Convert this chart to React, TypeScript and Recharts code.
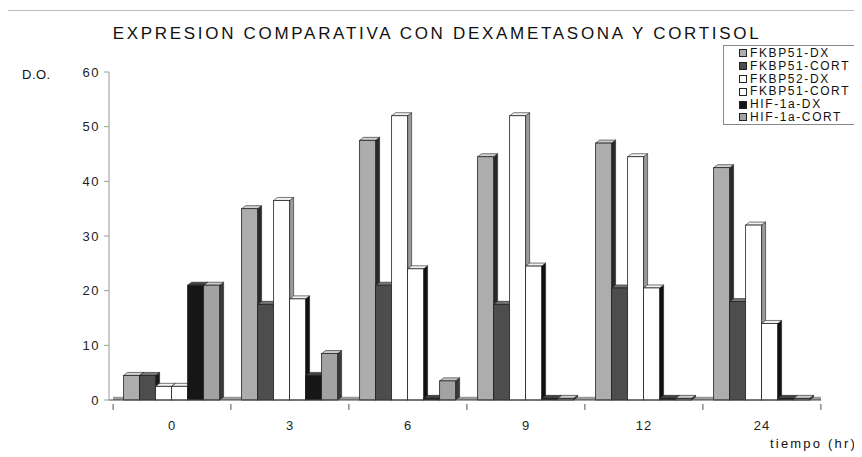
import { BarChart, Bar, XAxis, YAxis, ReferenceArea } from "recharts";

const times = ["0", "3", "6", "9", "12", "24"];
const fkbp51Dx = [4.5, 35, 47.5, 44.5, 47, 42.5];
const fkbp51Cort = [4.5, 17.5, 21, 17.5, 20.5, 18];
const fkbp52Dx = [2.5, 36.5, 52, 52, 44.5, 32];
const fkbp52Cort = [2.5, 18.5, 24, 24.5, 20.5, 14];
const hifDx = [21, 4.5, 0.3, 0.3, 0.3, 0.3];
const hifCort = [21, 8.5, 3.5, 0.3, 0.3, 0.3];
const yTicks = [0, 10, 20, 30, 40, 50, 60];

const series = [
  { key: "fkbp51Dx", name: "FKBP51-DX", values: fkbp51Dx, fill: "#adadad", side: "#2a2a2a", top: "#d0d0d0" },
  { key: "fkbp51Cort", name: "FKBP51-CORT", values: fkbp51Cort, fill: "#4d4d4d", side: "#1a1a1a", top: "#777" },
  { key: "fkbp52Dx", name: "FKBP52-DX", values: fkbp52Dx, fill: "#ffffff", side: "#9a9a9a", top: "#f2f2f2" },
  { key: "fkbp52Cort", name: "FKBP51-CORT", values: fkbp52Cort, fill: "#ffffff", side: "#111", top: "#f2f2f2" },
  { key: "hifDx", name: "HIF-1a-DX", values: hifDx, fill: "#161616", side: "#000", top: "#444" },
  { key: "hifCort", name: "HIF-1a-CORT", values: hifCort, fill: "#a2a2a2", side: "#3a3a3a", top: "#c8c8c8" },
];

const data = times.map((t, i) => {
  const row: Record<string, string | number> = { time: t };
  series.forEach((s) => (row[s.key] = s.values[i]));
  return row;
});

const FONT = '"Liberation Sans", Arial, sans-serif';
const BAND = 117.8;

function Bar3D(props: any) {
  const { x, y, width, height, fill, side, top } = props;
  if (!width || width <= 0) return null;
  const h = Math.max(height || 0, 0);
  const d = 4;
  const e = 3;
  return (
    <g>
      <polygon
        points={`${x + width},${y} ${x + width + d},${y - e} ${x + width + d},${y + h - e} ${x + width},${y + h}`}
        fill={side}
        stroke="#222"
        strokeWidth={0.6}
      />
      <polygon
        points={`${x},${y} ${x + d},${y - e} ${x + width + d},${y - e} ${x + width},${y}`}
        fill={top}
        stroke="#222"
        strokeWidth={0.6}
      />
      <rect x={x} y={y} width={width} height={h} fill={fill} stroke="#222" strokeWidth={0.8} />
    </g>
  );
}

function TimeTick(props: any) {
  const { x, y, payload, index } = props;
  return (
    <g>
      <line x1={x + BAND / 2} y1={y - 4} x2={x + BAND / 2} y2={y + 2} stroke="#555" />
      {index === 0 && <line x1={x - BAND / 2} y1={y - 4} x2={x - BAND / 2} y2={y + 2} stroke="#555" />}
      <text x={x} y={y + 22} textAnchor="middle" fontSize={13} letterSpacing={1} fontFamily={FONT} fill="#222">
        {payload.value}
      </text>
    </g>
  );
}

function LegendBox() {
  return (
    <div
      style={{
        position: "absolute",
        left: 715,
        top: 37,
        width: 139,
        height: 80,
        border: "1px solid #888",
        borderRight: "none",
        background: "#fff",
        fontFamily: FONT,
        fontSize: 12,
        letterSpacing: 1.6,
        color: "#111",
        boxSizing: "border-box",
        paddingTop: 1,
        paddingLeft: 15,
        whiteSpace: "nowrap",
      }}
    >
      {series.map((s) => (
        <div key={s.key} style={{ display: "flex", alignItems: "center", height: 12.8, lineHeight: "12.8px" }}>
          <span
            style={{
              display: "inline-block",
              width: 6,
              height: 6,
              marginRight: 3,
              background: s.fill,
              border: "1px solid #222",
            }}
          />
          <span>{s.name}</span>
        </div>
      ))}
    </div>
  );
}

export default function App() {
  return (
    <div style={{ position: "relative", width: 854, height: 449, fontFamily: FONT, background: "#fff" }}>
      <div style={{ position: "absolute", left: -4, top: 2, width: 860, borderTop: "1px solid #bbb" }} />
      <div
        style={{
          position: "absolute",
          left: 0,
          top: 16,
          width: 858,
          textAlign: "center",
          fontSize: 17,
          letterSpacing: 2.7,
          color: "#111",
          whiteSpace: "nowrap",
        }}
      >
        EXPRESION COMPARATIVA CON DEXAMETASONA Y CORTISOL
      </div>
      <div style={{ position: "absolute", left: 14, top: 59, fontSize: 13, letterSpacing: 0.5, color: "#111" }}>D.O.</div>
      <div style={{ position: "absolute", left: 762, top: 428, fontSize: 13, letterSpacing: 2.2, color: "#111" }}>
        tiempo (hr)
      </div>
      <BarChart
        width={854}
        height={449}
        data={data}
        margin={{ top: 64, right: 41, bottom: 27, left: 41 }}
        barCategoryGap="9%"
        barGap={0}
      >
        <XAxis
          dataKey="time"
          tick={<TimeTick />}
          tickLine={false}
          axisLine={{ stroke: "#444" }}
          height={30}
          padding={{ left: 4, right: 0 }}
          interval={0}
        />
        <YAxis
          domain={[0, 60]}
          ticks={yTicks}
          width={60}
          tickSize={5}
          tickMargin={4}
          axisLine={{ stroke: "#999" }}
          tickLine={{ stroke: "#999" }}
          tick={{ fontSize: 13, fill: "#222", fontFamily: FONT, letterSpacing: 1.5 }}
        />
        <ReferenceArea y1={0} y2={0.6} fill="#9a9a9a" fillOpacity={1} stroke="none" />
        {series.map((s) => (
          <Bar
            key={s.key}
            dataKey={s.key}
            name={s.name}
            fill={s.fill}
            isAnimationActive={false}
            shape={(p: any) => <Bar3D {...p} fill={s.fill} side={s.side} top={s.top} />}
          />
        ))}
      </BarChart>
      <LegendBox />
    </div>
  );
}
